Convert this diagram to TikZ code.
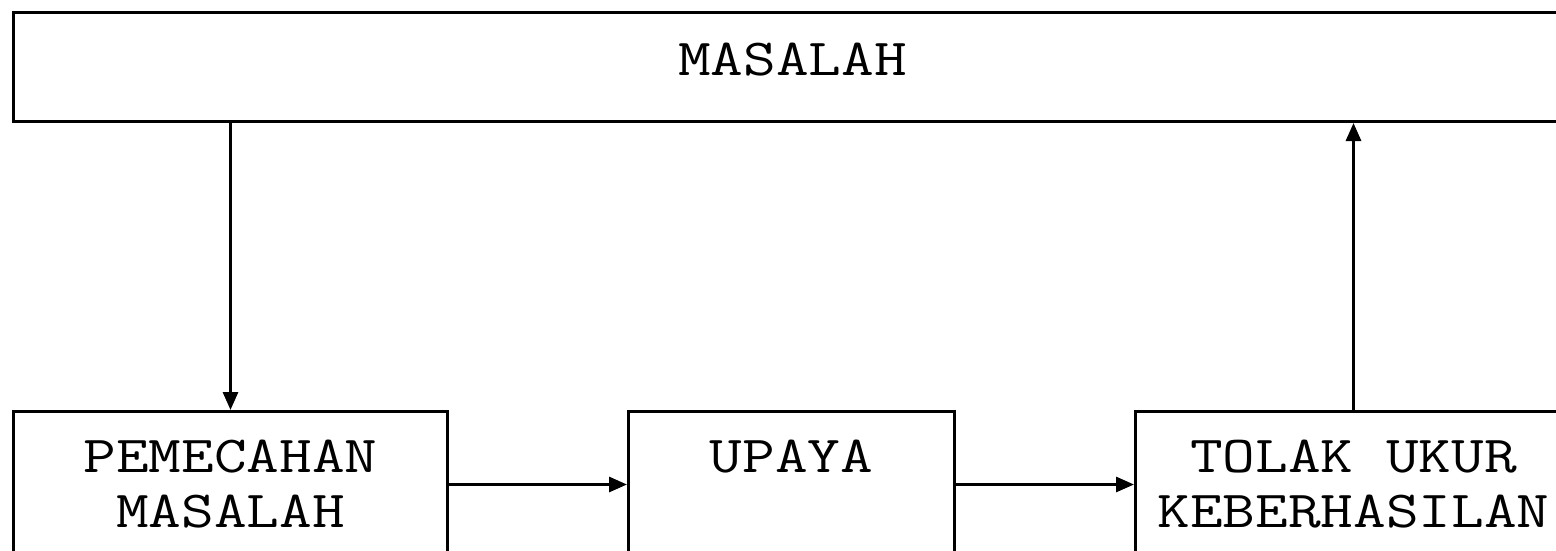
\documentclass[tikz,border=0pt]{standalone}
\usepackage{fontspec}
\usepackage{graphicx}
\usetikzlibrary{arrows.meta}
% monospaced caption text, widened
\newcommand\widecap[1]{\scalebox{1.22}[1]{#1}}
\begin{document}
\begin{tikzpicture}[x=1pt,y=-1pt,
  box/.style={draw, line width=3pt, rectangle, inner sep=0pt, anchor=north west},
  lbl/.style={font=\ttfamily\fontsize{52}{55}\selectfont, align=center, anchor=base, inner sep=0pt},
  conn/.style={line width=3pt, -{Triangle[length=18pt,width=15pt]}}]
% page area, white, with everything clipped to it
\fill[white] (0,0) rectangle (1556,551);
\clip (0,0) rectangle (1556,551);

% boxes
\node[box, minimum width=1558pt, minimum height=109pt] (m) at (12,11) {};
\node[box, minimum width=434pt, minimum height=146pt] (p) at (12,410) {};
\node[box, minimum width=326pt, minimum height=146pt] (u) at (627,410) {};
\node[box, minimum width=436pt, minimum height=146pt] (t) at (1134,410) {};

% labels (two-line labels sit on the baseline of their last line)
\node[lbl] (mt) at ([yshift=-64pt]m.north) {\widecap{MASALAH}};
\node[lbl] (pt) at ([yshift=-117pt]p.north) {\widecap{PEMECAHAN}\\\widecap{MASALAH}};
\node[lbl] (ut) at ([yshift=-62pt]u.north) {\widecap{UPAYA}};
\node[lbl] (tt) at ([yshift=-117pt]t.north) {\widecap{TOLAK UKUR}\\\widecap{KEBERHASILAN}};

% connectors
\draw[conn] (p.north |- m.south) -- (p.north);
\draw[conn] (p.east) -- (u.west);
\draw[conn] (u.east) -- (t.west);
\draw[conn] (t.north) -- (t.north |- m.south);
\end{tikzpicture}
\end{document}
